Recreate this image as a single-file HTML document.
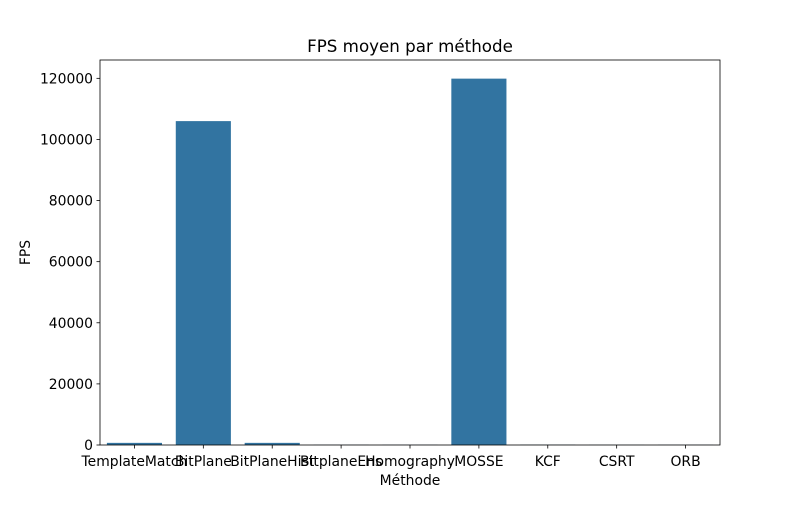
<!DOCTYPE html>
<html><head><meta charset="utf-8"><style>
body{margin:0;background:#fff;font-family:"Liberation Sans","DejaVu Sans",sans-serif;}
svg text{font-family:"DejaVu Sans","Liberation Sans",sans-serif;font-size:13.9px;fill:#000;}
</style></head><body>
<svg id="c" width="800" height="500">
<rect width="800" height="500" fill="#fff"/>
<g id="bars"></g><g id="axes"></g>
</svg>
<script>
const categories=["TemplateMatch","BitPlane","BitPlaneHist","BitplaneEns","Homography","MOSSE","KCF","CSRT","ORB"];
const fpsValues=[700,106000,700,60,60,119900,80,40,60];
const yTicks=[0,20000,40000,60000,80000,100000,120000];
const L=100,R=720,T=60,B=445,yMax=126000;
const ns="http://www.w3.org/2000/svg";
const bw=(R-L)/categories.length;
const x=i=>L+bw*(i+0.5);
const y=v=>B-(v/yMax)*(B-T);
const svg=document.getElementById('c'),bars=document.getElementById('bars'),axes=document.getElementById('axes');
function mk(tag,attrs,parent,text){const e=document.createElementNS(ns,tag);for(const k in attrs)e.setAttribute(k,attrs[k]);if(text!==undefined)e.textContent=text;parent.appendChild(e);return e;}
categories.forEach((c,i)=>{
 const r=mk('rect',{x:x(i)-bw*0.4,y:y(fpsValues[i]),width:bw*0.8,height:B-y(fpsValues[i]),fill:'#3274a1'},bars);
 
 
 mk('line',{x1:x(i),x2:x(i),y1:B,y2:B+3.5,stroke:'#000','stroke-width':0.8},axes);
 const t=mk('text',{x:x(i),y:B+21,'text-anchor':'middle'},axes,c);
 
 
});
yTicks.forEach(v=>{
 mk('line',{x1:L-3.5,x2:L,y1:y(v),y2:y(v),stroke:'#000','stroke-width':0.8},axes);
 const t=mk('text',{x:L-7,y:y(v)+5,'text-anchor':'end'},axes,String(v));
 
 
});
const fr=mk('rect',{x:L,y:T,width:R-L,height:B-T,fill:'none',stroke:'#000','stroke-width':0.8},axes);


const ti=mk('text',{x:(L+R)/2,y:T-8,'text-anchor':'middle',style:'font-size:16.7px'},axes,'FPS moyen par méthode');


const xt=mk('text',{x:(L+R)/2,y:485,'text-anchor':'middle'},axes,'Méthode');


const yt=mk('text',{x:30,y:(T+B)/2,'text-anchor':'middle',transform:'rotate(-90 30 '+((T+B)/2)+')'},axes,'FPS');


</script>
</body></html>
